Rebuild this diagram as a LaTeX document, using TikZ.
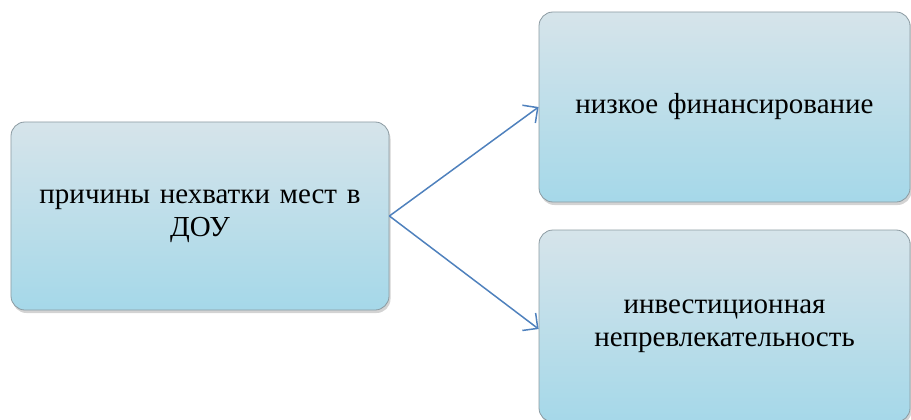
\documentclass[tikz,border=0pt]{standalone}
\usepackage{fontspec}
\setmainfont{Liberation Serif}
\usetikzlibrary{shadows}
\definecolor{boxtop}{HTML}{D6E4EA}
\definecolor{boxbot}{HTML}{A5D8E9}
\definecolor{boxline}{HTML}{8C9BA2}
\definecolor{arrowblue}{HTML}{4F81BD}
\tikzset{
  causebox/.style={rectangle, rounded corners=14bp, draw=boxline, line width=0.8bp,
    top color=boxtop, bottom color=boxbot, align=center,
    font=\fontsize{29bp}{33bp}\selectfont,
    drop shadow={shadow xshift=1.5bp, shadow yshift=-3bp, opacity=0.35}},
  causearrow/.style={draw=arrowblue, line width=1.5bp, -{Straight Barb[length=11bp,width=22bp]}}
}
\usetikzlibrary{arrows.meta}
\begin{document}
\begin{tikzpicture}[x=1bp, y=1bp]
\useasboundingbox (0,0) rectangle (911,419);
\node[causebox, minimum width=378bp, minimum height=188bp, text width=350bp] (reasons) at (200,203) {причины нехватки мест в\\ДОУ};
\node[causebox, minimum width=371bp, minimum height=190bp, text width=350bp] (funding) at (724.5,312) {низкое финансирование};
\node[causebox, minimum width=371bp, minimum height=192bp, text width=350bp] (invest) at (724.5,93) {инвестиционная\\непревлекательность};
\draw[causearrow] (reasons.east) -- (funding.west);
\draw[causearrow] (reasons.east) -- ([yshift=-3bp]invest.west);
\end{tikzpicture}
\end{document}
